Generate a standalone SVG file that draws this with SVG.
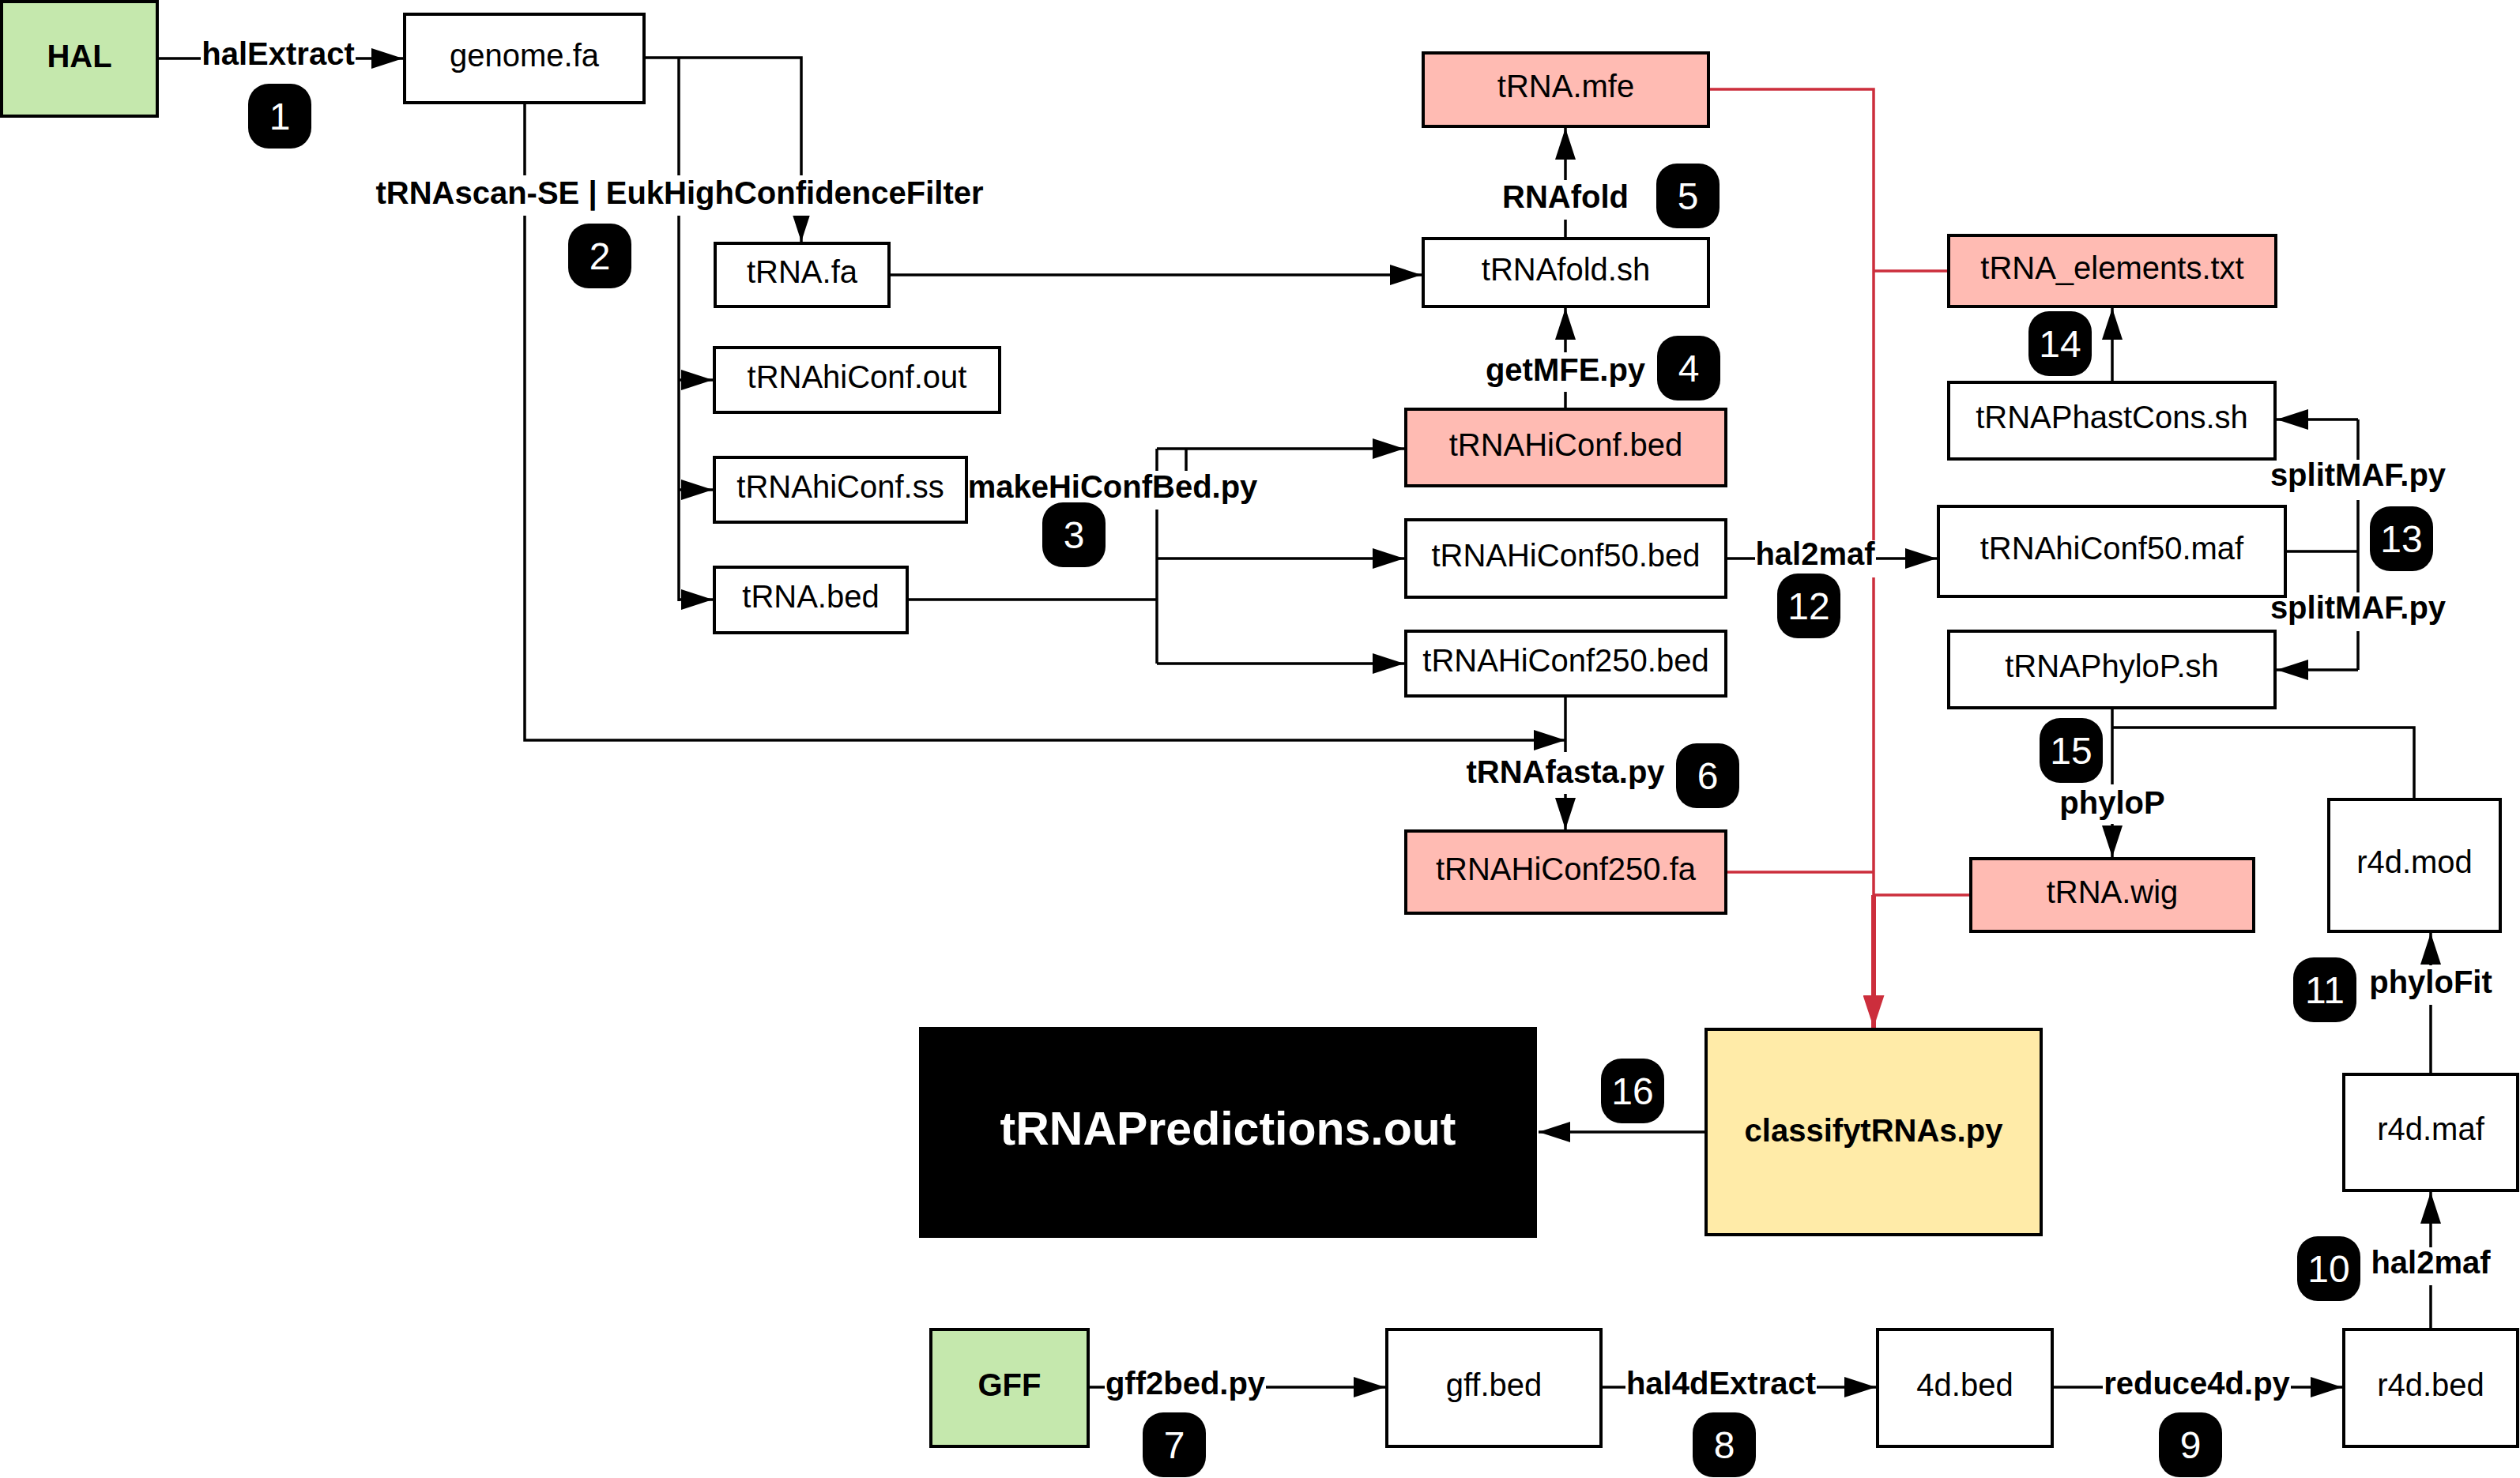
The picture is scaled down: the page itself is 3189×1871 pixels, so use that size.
<svg xmlns="http://www.w3.org/2000/svg" width="3189" height="1871" viewBox="0 0 3189 1871">
<defs>
<style>
.t{font-family:"Liberation Sans",Arial,Helvetica,sans-serif;font-size:40px;text-anchor:middle;fill:#000}
.b{font-weight:bold}
.box{stroke:#000;stroke-width:4}
.plain{fill:#fff}
.pink{fill:#FFBBB3}
.green{fill:#C5E8AD}
.yellow{fill:#FFEBA8}
.conn{fill:none;stroke:#000;stroke-width:3.5}
.red{fill:none;stroke:#CC2E3C;stroke-width:3.5}
.lbg{fill:#fff}
.badge rect{fill:#000}
.badge text{font-family:"Liberation Sans",Arial,Helvetica,sans-serif;font-size:48px;text-anchor:middle;fill:#fff}
</style>
<marker id="ah" markerUnits="userSpaceOnUse" markerWidth="40" markerHeight="26" refX="40" refY="13" orient="auto" viewBox="0 0 40 26">
<path d="M0,0 L40,13 L0,26 z" fill="#000"/>
</marker>
<marker id="ahr" markerUnits="userSpaceOnUse" markerWidth="41" markerHeight="27" refX="41" refY="13.5" orient="auto" viewBox="0 0 41 27">
<path d="M0,0 L41,13.5 L0,27 z" fill="#CC2E3C"/>
</marker>
</defs>
<rect width="3189" height="1871" fill="#fff"/>

<g id="connectors">
<g id="red-lines">
<path class="red" d="M2162,113 H2371 V1133"/>
<path class="red" d="M2466,343 H2371"/>
<path class="red" d="M2184,1104 H2371"/>
<path class="red" d="M2494,1133 H2371"/>
<path class="red" style="stroke-width:6" d="M2371,1133 V1301" marker-end="url(#ahr)"/>
</g>
<g id="black-lines">
<path class="conn" d="M200,74 H510" marker-end="url(#ah)"/>
<path class="conn" d="M815,73 H1014 V306" marker-end="url(#ah)"/>
<path class="conn" d="M859,73 V761"/>
<path class="conn" d="M859,481 H902" marker-end="url(#ah)"/>
<path class="conn" d="M859,620 H902" marker-end="url(#ah)"/>
<path class="conn" d="M859,759 H902" marker-end="url(#ah)"/>
<path class="conn" d="M664,130 V937 H1981" marker-end="url(#ah)"/>
<path class="conn" d="M1125,348 H1799" marker-end="url(#ah)"/>
<path class="conn" d="M1981,300 V162" marker-end="url(#ah)"/>
<path class="conn" d="M1981,516 V390" marker-end="url(#ah)"/>
<path class="conn" d="M1148,759 H1464"/>
<path class="conn" d="M1464,568 V840"/>
<path class="conn" d="M1464,568 H1777" marker-end="url(#ah)"/>
<path class="conn" d="M1464,707 H1777" marker-end="url(#ah)"/>
<path class="conn" d="M1464,840 H1777" marker-end="url(#ah)"/>
<path class="conn" d="M1501,568 V596"/>
<path class="conn" d="M2184,707 H2451" marker-end="url(#ah)"/>
<path class="conn" d="M1981,881 V1050" marker-end="url(#ah)"/>
<path class="conn" d="M2673,484 V390" marker-end="url(#ah)"/>
<path class="conn" d="M2892,698 H2984"/>
<path class="conn" d="M2984,531 V848"/>
<path class="conn" d="M2984,531 H2881" marker-end="url(#ah)"/>
<path class="conn" d="M2984,848 H2881" marker-end="url(#ah)"/>
<path class="conn" d="M2673,896 V1085" marker-end="url(#ah)"/>
<path class="conn" d="M2673,921 H3055 V1012"/>
<path class="conn" d="M3076,1360 V1181" marker-end="url(#ah)"/>
<path class="conn" d="M3076,1683 V1509" marker-end="url(#ah)"/>
<path class="conn" d="M1377,1756 H1753" marker-end="url(#ah)"/>
<path class="conn" d="M2026,1756 H2374" marker-end="url(#ah)"/>
<path class="conn" d="M2597,1756 H2964" marker-end="url(#ah)"/>
<path class="conn" d="M2159,1433 H1947" marker-end="url(#ah)"/>
</g>
<g id="edge-labels">
<rect class="lbg" x="254" y="50" width="196" height="44"/>
<text class="t b" x="352" y="82">halExtract</text>
<rect class="lbg" x="472" y="222" width="776" height="51"/>
<text class="t b" x="860" y="258">tRNAscan-SE | EukHighConfidenceFilter</text>
<rect class="lbg" x="1899" y="228" width="164" height="50"/>
<text class="t b" x="1981" y="263">RNAfold</text>
<rect class="lbg" x="1878" y="446" width="206" height="50"/>
<text class="t b" x="1981" y="482">getMFE.py</text>
<rect class="lbg" x="1223" y="596" width="371" height="49"/>
<text class="t b" x="1408" y="630">makeHiConfBed.py</text>
<rect class="lbg" x="2221" y="684" width="153" height="47"/>
<text class="t b" x="2297" y="715">hal2maf</text>
<rect class="lbg" x="1855" y="952" width="253" height="53"/>
<text class="t b" x="1981" y="991">tRNAfasta.py</text>
<rect class="lbg" x="2870" y="582" width="229" height="51"/>
<text class="t b" x="2984" y="615">splitMAF.py</text>
<rect class="lbg" x="2870" y="750" width="229" height="49"/>
<text class="t b" x="2984" y="783">splitMAF.py</text>
<rect class="lbg" x="2605" y="993" width="136" height="50"/>
<text class="t b" x="2673" y="1030">phyloP</text>
<rect class="lbg" x="2997" y="1222" width="158" height="50"/>
<text class="t b" x="3076" y="1257">phyloFit</text>
<rect class="lbg" x="2999" y="1579" width="154" height="48"/>
<text class="t b" x="3076" y="1612">hal2maf</text>
<rect class="lbg" x="1398" y="1731" width="204" height="46"/>
<text class="t b" x="1500" y="1765">gff2bed.py</text>
<rect class="lbg" x="2057" y="1731" width="242" height="46"/>
<text class="t b" x="2178" y="1765">hal4dExtract</text>
<rect class="lbg" x="2661" y="1731" width="238" height="46"/>
<text class="t b" x="2780" y="1765">reduce4d.py</text>
</g>
</g>

<g id="nodes">
<g id="n-hal"><rect class="box green" x="2" y="2" width="197" height="145"/><text class="t b" x="100.5" y="85">HAL</text></g>
<g id="n-genome"><rect class="box plain" x="512" y="18" width="303" height="112"/><text class="t" x="663.5" y="84">genome.fa</text></g>
<g id="n-trnafa"><rect class="box plain" x="905" y="308" width="220" height="80"/><text class="t" x="1015" y="358">tRNA.fa</text></g>
<g id="n-hiconfout"><rect class="box plain" x="904" y="440" width="361" height="82"/><text class="t" x="1084.5" y="491">tRNAhiConf.out</text></g>
<g id="n-hiconfss"><rect class="box plain" x="904" y="579" width="319" height="82"/><text class="t" x="1063.5" y="630">tRNAhiConf.ss</text></g>
<g id="n-trnabed"><rect class="box plain" x="904" y="718" width="244" height="83"/><text class="t" x="1026" y="769">tRNA.bed</text></g>
<g id="n-mfe"><rect class="box pink" x="1801" y="67" width="361" height="93"/><text class="t" x="1981.5" y="123">tRNA.mfe</text></g>
<g id="n-foldsh"><rect class="box plain" x="1801" y="302" width="361" height="86"/><text class="t" x="1981.5" y="355">tRNAfold.sh</text></g>
<g id="n-hiconfbed"><rect class="box pink" x="1779" y="518" width="405" height="97"/><text class="t" x="1981.5" y="577">tRNAHiConf.bed</text></g>
<g id="n-hiconf50bed"><rect class="box plain" x="1779" y="658" width="405" height="98"/><text class="t" x="1981.5" y="717">tRNAHiConf50.bed</text></g>
<g id="n-hiconf250bed"><rect class="box plain" x="1779" y="799" width="405" height="82"/><text class="t" x="1981.5" y="850">tRNAHiConf250.bed</text></g>
<g id="n-hiconf250fa"><rect class="box pink" x="1779" y="1052" width="405" height="104"/><text class="t" x="1981.5" y="1114">tRNAHiConf250.fa</text></g>
<g id="n-elements"><rect class="box pink" x="2466" y="298" width="414" height="90"/><text class="t" x="2673" y="353">tRNA_elements.txt</text></g>
<g id="n-phastcons"><rect class="box plain" x="2466" y="484" width="413" height="97"/><text class="t" x="2672.5" y="542">tRNAPhastCons.sh</text></g>
<g id="n-hiconf50maf"><rect class="box plain" x="2453" y="641" width="439" height="114"/><text class="t" x="2672.5" y="708">tRNAhiConf50.maf</text></g>
<g id="n-phylopsh"><rect class="box plain" x="2466" y="799" width="413" height="97"/><text class="t" x="2672.5" y="857">tRNAPhyloP.sh</text></g>
<g id="n-wig"><rect class="box pink" x="2494" y="1087" width="358" height="92"/><text class="t" x="2673" y="1143">tRNA.wig</text></g>
<g id="n-r4dmod"><rect class="box plain" x="2947" y="1012" width="217" height="167"/><text class="t" x="3055.5" y="1105">r4d.mod</text></g>
<g id="n-r4dmaf"><rect class="box plain" x="2966" y="1360" width="220" height="147"/><text class="t" x="3076" y="1443">r4d.maf</text></g>
<g id="n-r4dbed"><rect class="box plain" x="2966" y="1683" width="220" height="148"/><text class="t" x="3076" y="1767">r4d.bed</text></g>
<g id="n-gff"><rect class="box green" x="1178" y="1683" width="199" height="148"/><text class="t b" x="1277.5" y="1767">GFF</text></g>
<g id="n-gffbed"><rect class="box plain" x="1755" y="1683" width="271" height="148"/><text class="t" x="1890.5" y="1767">gff.bed</text></g>
<g id="n-4dbed"><rect class="box plain" x="2376" y="1683" width="221" height="148"/><text class="t" x="2486.5" y="1767">4d.bed</text></g>
<g id="n-classify"><rect class="box yellow" x="2159" y="1303" width="424" height="260"/><text class="t b" x="2371" y="1445">classifytRNAs.py</text></g>
<g id="n-predictions"><rect x="1163" y="1300" width="782" height="267" fill="#000"/><text class="t b" x="1554" y="1449" style="font-size:59px;fill:#fff">tRNAPredictions.out</text></g>
</g>

<g id="badges">
<g class="badge" id="b1"><rect x="314" y="106" width="80" height="82" rx="26"/><text x="354" y="164">1</text></g>
<g class="badge" id="b2"><rect x="719" y="283" width="80" height="82" rx="26"/><text x="759" y="341">2</text></g>
<g class="badge" id="b3"><rect x="1319" y="636" width="80" height="82" rx="26"/><text x="1359" y="694">3</text></g>
<g class="badge" id="b4"><rect x="2097" y="425" width="80" height="82" rx="26"/><text x="2137" y="483">4</text></g>
<g class="badge" id="b5"><rect x="2096" y="207" width="80" height="82" rx="26"/><text x="2136" y="265">5</text></g>
<g class="badge" id="b6"><rect x="2121" y="941" width="80" height="82" rx="26"/><text x="2161" y="999">6</text></g>
<g class="badge" id="b7"><rect x="1446" y="1788" width="80" height="82" rx="26"/><text x="1486" y="1846">7</text></g>
<g class="badge" id="b8"><rect x="2142" y="1788" width="80" height="82" rx="26"/><text x="2182" y="1846">8</text></g>
<g class="badge" id="b9"><rect x="2732" y="1788" width="80" height="82" rx="26"/><text x="2772" y="1846">9</text></g>
<g class="badge" id="b10"><rect x="2907" y="1565" width="80" height="82" rx="26"/><text x="2947" y="1623">10</text></g>
<g class="badge" id="b11"><rect x="2902" y="1212" width="80" height="82" rx="26"/><text x="2942" y="1270">11</text></g>
<g class="badge" id="b12"><rect x="2249" y="726" width="80" height="82" rx="26"/><text x="2289" y="784">12</text></g>
<g class="badge" id="b13"><rect x="2999" y="641" width="80" height="82" rx="26"/><text x="3039" y="699">13</text></g>
<g class="badge" id="b14"><rect x="2567" y="394" width="80" height="82" rx="26"/><text x="2607" y="452">14</text></g>
<g class="badge" id="b15"><rect x="2581" y="909" width="80" height="82" rx="26"/><text x="2621" y="967">15</text></g>
<g class="badge" id="b16"><rect x="2026" y="1340" width="80" height="82" rx="26"/><text x="2066" y="1398">16</text></g>
</g>
</svg>
